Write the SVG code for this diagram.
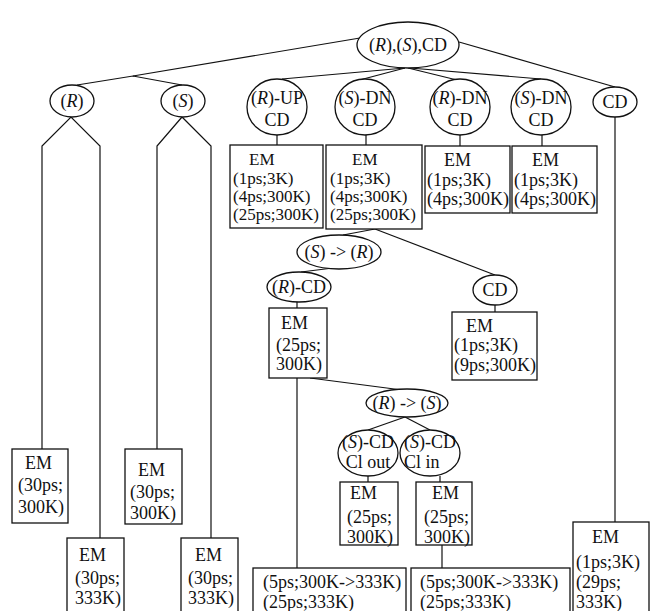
<svg xmlns="http://www.w3.org/2000/svg" width="650" height="611" viewBox="0 0 650 611">
<style>
text{font-family:"Liberation Serif","Times New Roman",serif;font-size:18px;fill:#111}
.c{text-anchor:middle}
.s{font-size:17px}
.n ellipse,.n rect{fill:#fff;stroke:#111;stroke-width:1.3}
#edges line,#edges polyline{stroke:#111;stroke-width:1.2;fill:none}
</style>
<rect width="650" height="611" fill="#fff"/>
<g id="edges">
<line x1="360" y1="38" x2="133" y2="76"/>
<polyline points="77,85 133,76 182,85"/>
<line x1="405" y1="68" x2="282" y2="79"/>
<line x1="405" y1="68" x2="352" y2="82"/>
<line x1="408" y1="68" x2="457" y2="80"/>
<line x1="410" y1="68" x2="541" y2="79"/>
<line x1="459" y1="42" x2="615" y2="87"/>
<polyline points="42,449 42,146 71,117 100,146 100,538"/>
<polyline points="157,449 157,146 182,117 211,146 211,538"/>
<line x1="277" y1="135" x2="277" y2="145"/>
<line x1="366" y1="135" x2="366" y2="145"/>
<line x1="460" y1="135" x2="460" y2="146"/>
<line x1="542" y1="135" x2="542" y2="146"/>
<line x1="615" y1="117" x2="615" y2="522"/>
<line x1="375" y1="229" x2="343" y2="235"/>
<line x1="375" y1="229" x2="495" y2="275"/>
<line x1="333" y1="268" x2="301" y2="272"/>
<line x1="297" y1="302" x2="297" y2="308"/>
<line x1="495" y1="305" x2="495" y2="312"/>
<line x1="297" y1="378" x2="297" y2="568"/>
<line x1="310" y1="378" x2="402" y2="390"/>
<line x1="405" y1="417" x2="368" y2="430"/>
<line x1="405" y1="417" x2="430" y2="430"/>
<line x1="368" y1="476" x2="368" y2="482"/>
<line x1="440" y1="476" x2="440" y2="482"/>
<line x1="442" y1="545" x2="442" y2="568"/>
</g>
<g id="root" class="n"><ellipse cx="408" cy="45" rx="51" ry="23"/><text class="c" x="408" y="51">(<tspan font-style="italic">R</tspan>),(<tspan font-style="italic">S</tspan>),CD</text></g>
<g id="R" class="n"><ellipse cx="72" cy="101" rx="22" ry="16"/><text class="c" x="72" y="107">(<tspan font-style="italic">R</tspan>)</text></g>
<g id="S" class="n"><ellipse cx="183" cy="101" rx="22" ry="16"/><text class="c" x="183" y="107">(<tspan font-style="italic">S</tspan>)</text></g>
<g id="RUP" class="n"><ellipse cx="277" cy="107" rx="30" ry="28"/><text class="c" x="277" y="104">(<tspan font-style="italic">R</tspan>)-UP</text><text class="c" x="277" y="126">CD</text></g>
<g id="SDN1" class="n"><ellipse cx="365" cy="107" rx="30" ry="28"/><text class="c" x="365" y="104">(<tspan font-style="italic">S</tspan>)-DN</text><text class="c" x="365" y="126">CD</text></g>
<g id="RDN" class="n"><ellipse cx="460" cy="107" rx="30" ry="28"/><text class="c" x="460" y="104">(<tspan font-style="italic">R</tspan>)-DN</text><text class="c" x="460" y="126">CD</text></g>
<g id="SDN2" class="n"><ellipse cx="541" cy="107" rx="30" ry="28"/><text class="c" x="541" y="104">(<tspan font-style="italic">S</tspan>)-DN</text><text class="c" x="541" y="126">CD</text></g>
<g id="CD" class="n"><ellipse cx="615" cy="102" rx="22" ry="15"/><text class="c" x="615" y="108">CD</text></g>
<g id="em1" class="n"><rect x="230" y="145" width="93" height="83"/><text class="s" x="249" y="165">EM</text><text class="s" x="233" y="184">(1ps;3K)</text><text class="s" x="233" y="202">(4ps;300K)</text><text class="s" x="233" y="220">(25ps;300K)</text></g>
<g id="em2" class="n"><rect x="326" y="145" width="96" height="84"/><text class="s" x="352" y="165">EM</text><text class="s" x="330" y="184">(1ps;3K)</text><text class="s" x="330" y="202">(4ps;300K)</text><text class="s" x="330" y="220">(25ps;300K)</text></g>
<g id="em3" class="n"><rect x="425" y="146" width="85" height="67"/><text x="444" y="166">EM</text><text x="427" y="186">(1ps;3K)</text><text x="427" y="205">(4ps;300K)</text></g>
<g id="em4" class="n"><rect x="512" y="146" width="85" height="67"/><text x="532" y="166">EM</text><text x="514" y="186">(1ps;3K)</text><text x="514" y="205">(4ps;300K)</text></g>
<g id="SR" class="n"><ellipse cx="339" cy="252" rx="42" ry="17"/><text class="c" x="339" y="258">(<tspan font-style="italic">S</tspan>) -&gt; (<tspan font-style="italic">R</tspan>)</text></g>
<g id="RCD" class="n"><ellipse cx="299" cy="287" rx="32" ry="15"/><text class="c" x="299" y="293">(<tspan font-style="italic">R</tspan>)-CD</text></g>
<g id="CDm" class="n"><ellipse cx="495" cy="290" rx="22" ry="15"/><text class="c" x="495" y="296">CD</text></g>
<g id="em5" class="n"><rect x="269" y="308" width="58" height="70"/><text x="281" y="329">EM</text><text x="276" y="351">(25ps;</text><text x="276" y="370">300K)</text></g>
<g id="em6" class="n"><rect x="452" y="312" width="85" height="68"/><text x="466" y="332">EM</text><text x="454" y="351">(1ps;3K)</text><text x="454" y="371">(9ps;300K)</text></g>
<g id="RS" class="n"><ellipse cx="407" cy="403" rx="41" ry="14"/><text class="c" x="407" y="409">(<tspan font-style="italic">R</tspan>) -&gt; (<tspan font-style="italic">S</tspan>)</text></g>
<g id="Clout" class="n"><ellipse cx="368" cy="453" rx="30" ry="23"/><text class="c" x="368" y="448">(<tspan font-style="italic">S</tspan>)-CD</text><text class="c" x="368" y="468">Cl out</text></g>
<g id="Clin" class="n"><ellipse cx="430" cy="453" rx="30" ry="23"/><text class="c" x="430" y="448">(<tspan font-style="italic">S</tspan>)-CD</text><text x="404" y="468">Cl in</text></g>
<g id="em7" class="n"><rect x="340" y="482" width="58" height="63"/><text x="350" y="499">EM</text><text x="347" y="523">(25ps;</text><text x="347" y="543">300K)</text></g>
<g id="em8" class="n"><rect x="416" y="482" width="56" height="63"/><text x="432" y="499">EM</text><text x="424" y="523">(25ps;</text><text x="424" y="543">300K)</text></g>
<g id="L1" class="n"><rect x="12" y="449" width="56" height="74"/><text x="25" y="469">EM</text><text x="18" y="491">(30ps;</text><text x="18" y="513">300K)</text></g>
<g id="L2" class="n"><rect x="67" y="538" width="57" height="80"/><text x="79" y="561">EM</text><text x="75" y="584">(30ps;</text><text x="75" y="604">333K)</text></g>
<g id="L3" class="n"><rect x="125" y="449" width="57" height="75"/><text x="138" y="476">EM</text><text x="130" y="498">(30ps;</text><text x="130" y="519">300K)</text></g>
<g id="L4" class="n"><rect x="181" y="538" width="57" height="80"/><text x="195" y="561">EM</text><text x="188" y="584">(30ps;</text><text x="188" y="604">333K)</text></g>
<g id="B1" class="n"><rect x="253" y="568" width="153" height="60"/><text x="263" y="588">(5ps;300K-&gt;333K)</text><text x="263" y="608">(25ps;333K)</text></g>
<g id="B2" class="n"><rect x="411" y="568" width="159" height="60"/><text x="420" y="588">(5ps;300K-&gt;333K)</text><text x="420" y="608">(25ps;333K)</text></g>
<g id="B3" class="n"><rect x="573" y="522" width="76" height="100"/><text x="592" y="543">EM</text><text x="576" y="568">(1ps;3K)</text><text x="576" y="588">(29ps;</text><text x="576" y="608">333K)</text></g>
</svg>
